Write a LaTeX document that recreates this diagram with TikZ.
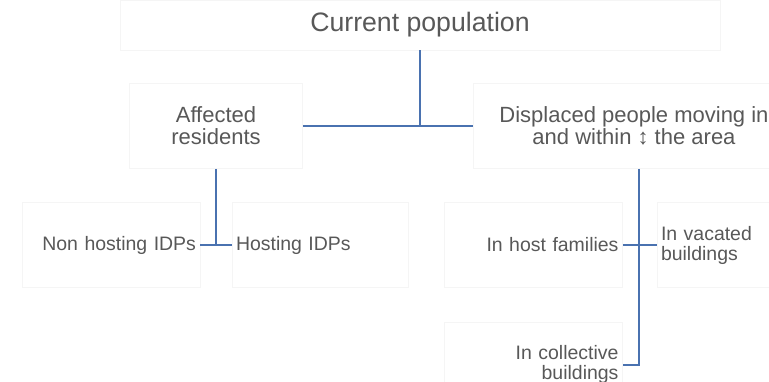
\documentclass[tikz,border=0pt]{standalone}
\usepackage{fontspec}
\setmainfont{Liberation Sans}
\usetikzlibrary{positioning}
\definecolor{linkblue}{RGB}{74, 114, 176}
\definecolor{textgray}{RGB}{88, 88, 88}
\definecolor{boxgray}{RGB}{245, 245, 245}
\newlength{\px}
\setlength{\px}{0.75pt}

\begin{document}
\begin{tikzpicture}[x=0.75pt, y=-0.75pt]%
        \tikzstyle{box} = [draw=boxgray, text=textgray, inner sep=4\px, minimum height=85\px]
        \tikzstyle{mid} = [box, align=center, font=\fontsize{16.5}{16.5}\selectfont]
        \tikzstyle{leaf} = [box, font=\fontsize{14.6}{15}\selectfont]
        \tikzstyle{link} = [draw=linkblue, line width=1.5pt]

        \clip (0,0) rectangle (769,382);

        \node[box, minimum width=600\px, minimum height=50\px, font=\fontsize{20}{20}\selectfont] (title) at (420,25) {Current population};

        \node[mid, minimum width=173\px] (affected) at (216,126) {Affected\\residents};
        \node[mid, minimum width=322\px] (displaced) at (634,126) {Displaced people moving in\\and within ↕ the area};

        % leaves on the left of a connector
        \foreach \name/\x/\y/\txt in {nonhost/111/245/{Non hosting IDPs}, hostfam/533.5/245/{In host families}, collective/533.5/364.5/{In collective\\buildings}}{
          \node[leaf, text width=170\px, align=right] (\name) at (\x,\y) {\txt};
        }
        % leaves on the right of a connector
        \foreach \name/\x/\y/\txt in {hosting/320/245/{Hosting IDPs}, vacated/745/245/{In vacated\\buildings}}{
          \node[leaf, text width=168\px, align=left] (\name) at (\x,\y) {\txt};
        }

        \coordinate (hub) at (title.south |- affected.east);
        \draw[link] (title.south) -- (hub);
        \draw[link] (affected.east) -- (displaced.west);

        \draw[link] (affected.south) -- (affected.south |- nonhost.east);
        \draw[link] (nonhost.east) -- (hosting.west);

        \draw[link] ([xshift=5\px]displaced.south) -- ([xshift=5\px]displaced.south |- collective.east) -- (collective.east);
        \draw[link] (hostfam.east) -- (vacated.west);
      \end{tikzpicture}
\end{document}
